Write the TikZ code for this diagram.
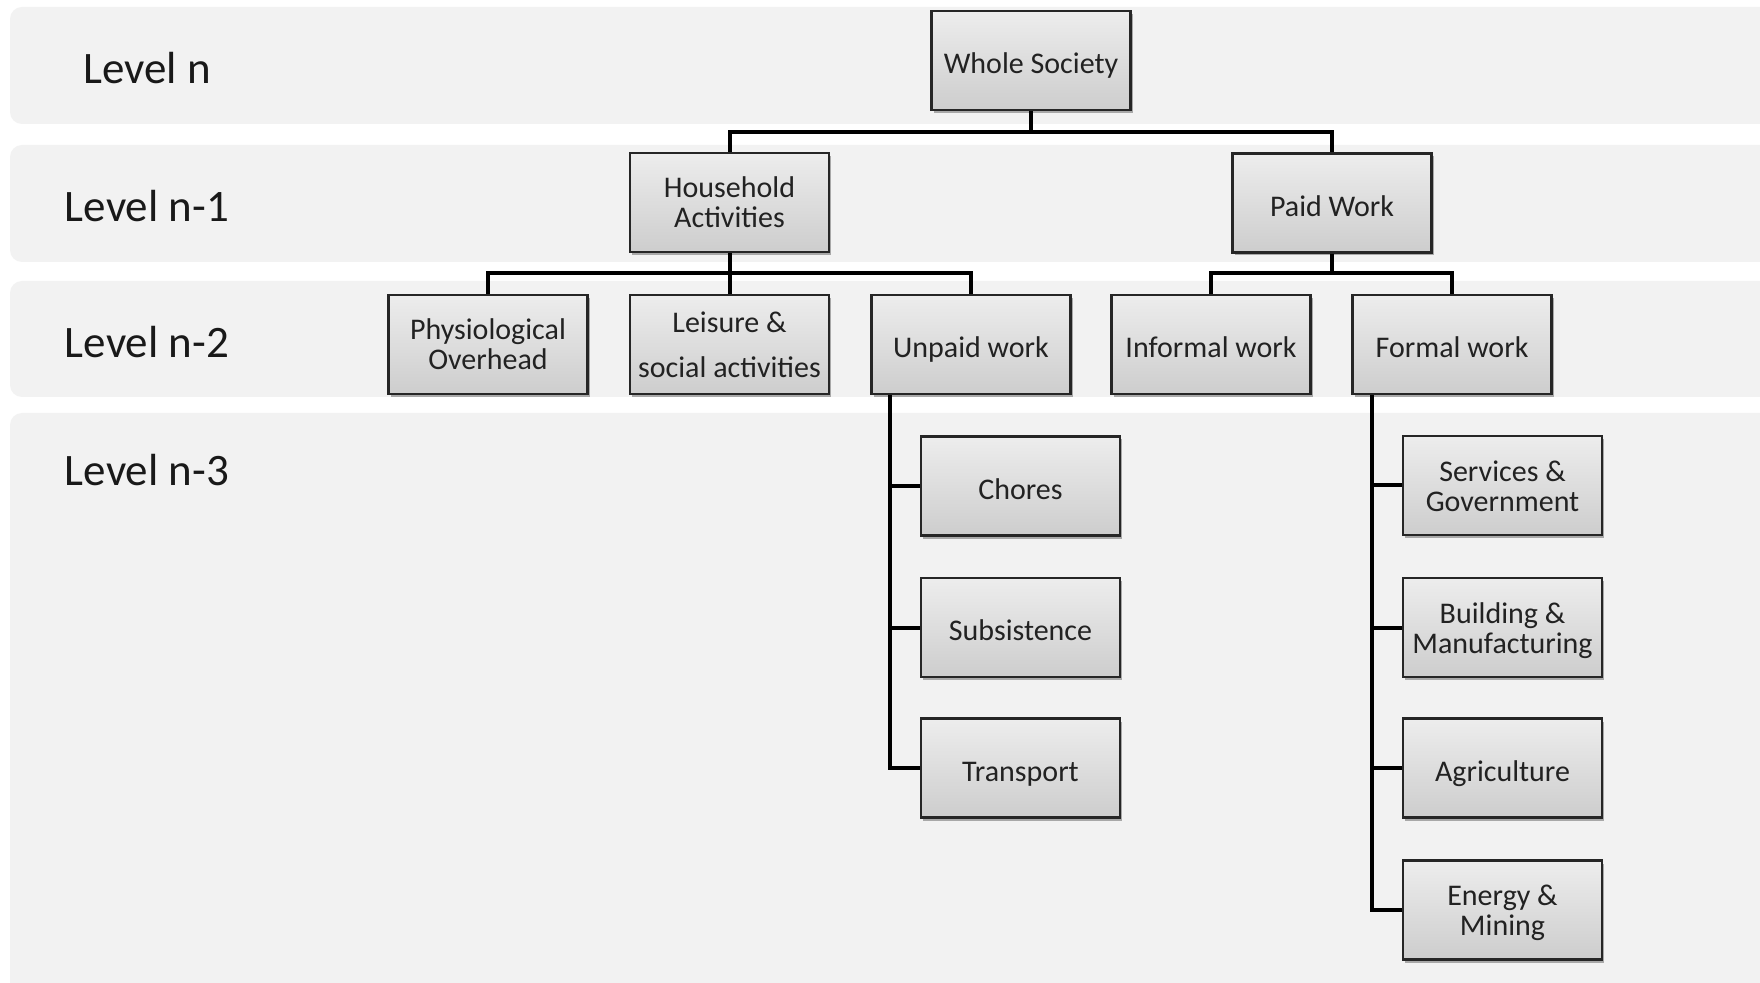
\documentclass[tikz,border=0pt]{standalone}
\usepackage{fontspec}
\setmainfont{Carlito}
\usetikzlibrary{shadows}
\definecolor{bandgray}{HTML}{F2F2F2}
\definecolor{boxtop}{HTML}{EDEDED}
\definecolor{boxbot}{HTML}{CDCDCD}
\definecolor{inkgray}{HTML}{222222}
\tikzset{
  band/.style={fill=bandgray, draw=none, rounded corners=6pt},
  levellabel/.style={anchor=base, font=\fontsize{22.5}{27}\selectfont, text=black!90},
  unitbox/.style={draw=black!85, line width=1.1pt, top color=boxtop, bottom color=boxbot,
    minimum width=99.5pt, minimum height=49.5pt, inner sep=0pt, align=center,
    font=\fontsize{15}{15}\selectfont, text=inkgray,
    drop shadow={shadow xshift=1.2pt, shadow yshift=-1.5pt, fill=black, opacity=0.3}},
  % struts (measured from the last baseline) that place the text inside a box
  oneline/.style={execute at begin node={\rule[-3.5pt]{0pt}{20.3pt}}},
  twoline/.style={execute at begin node={\rule[-3.5pt]{0pt}{32.5pt}}},
  wideline/.style={execute at begin node={\rule[-3.5pt]{0pt}{39.8pt}}},
  link/.style={draw=black, line width=2pt, line join=miter}
}
\begin{document}
\begin{tikzpicture}[x=0.5pt, y=-0.5pt]
\useasboundingbox (0,0) rectangle (1760,983);
\fill[white] (0,0) rectangle (1760,983);

% level bands
\begin{scope}
  \clip (0,0) rectangle (1760,983);
  \path[band] (10,7) rectangle (1790,124);
  \path[band] (10,145) rectangle (1790,262);
  \path[band] (10,281) rectangle (1790,397);
  \path[band] (10,413) rectangle (1790,1010);
\end{scope}

% level labels
\node[levellabel] (ln)  at (147,84)  {Level n};
\node[levellabel] (ln1) at (147,222) {Level n-1};
\node[levellabel] (ln2) at (147,358) {Level n-2};
\node[levellabel] (ln3) at (147,486) {Level n-3};

% hierarchy
\node[unitbox, oneline]  (ws) at (1031,60.5)    {Whole Society};
\node[unitbox, twoline]  (ha) at (729.5,202.5)  {Household\\Activities};
\node[unitbox, oneline]  (pw) at (1332,203)     {Paid Work};
\node[unitbox, twoline]  (po) at (488,344.5)    {Physiological\\Overhead};
\node[unitbox, wideline] (ls) at (729.5,344.5)  {Leisure \&\\[7.3pt]social activities};
\node[unitbox, oneline]  (uw) at (971,344.5)    {Unpaid work};
\node[unitbox, oneline]  (iw) at (1211,344.5)   {Informal work};
\node[unitbox, oneline]  (fw) at (1452,344.5)   {Formal work};

\node[unitbox, oneline]  (ch) at (1020.5,486)   {Chores};
\node[unitbox, oneline]  (su) at (1020.5,627.5) {Subsistence};
\node[unitbox, oneline]  (tr) at (1020.5,768)   {Transport};

\node[unitbox, twoline]  (sg) at (1502.5,485.5) {Services \&\\Government};
\node[unitbox, twoline]  (bm) at (1502.5,627.5) {Building \&\\Manufacturing};
\node[unitbox, oneline]  (ag) at (1502.5,768)   {Agriculture};
\node[unitbox, twoline]  (em) at (1502.5,910)   {Energy \&\\Mining};

% junctions
\coordinate (j0) at (1031,132);
\coordinate (j1) at (729.5,273);
\coordinate (j2) at (1332,273);
\coordinate (u0) at ([xshift=10pt]uw.south west);
\coordinate (f0) at ([xshift=10.5pt]fw.south west);

% connectors
\draw[link] (ws.south) -- (j0);
\draw[link] (ha.north) |- (j0) -| (pw.north);
\draw[link] (ha.south) -- (j1);
\draw[link] (po.north) |- (j1) -| (uw.north);
\draw[link] (ls.north) -- (j1);
\draw[link] (pw.south) -- (j2);
\draw[link] (iw.north) |- (j2) -| (fw.north);

\draw[link] (u0) |- (tr.west);
\draw[link] (u0 |- ch.west) -- (ch.west);
\draw[link] (u0 |- su.west) -- (su.west);

\draw[link] (f0) |- (em.west);
\draw[link] (f0 |- sg.west) -- (sg.west);
\draw[link] (f0 |- bm.west) -- (bm.west);
\draw[link] (f0 |- ag.west) -- (ag.west);
\end{tikzpicture}
\end{document}
